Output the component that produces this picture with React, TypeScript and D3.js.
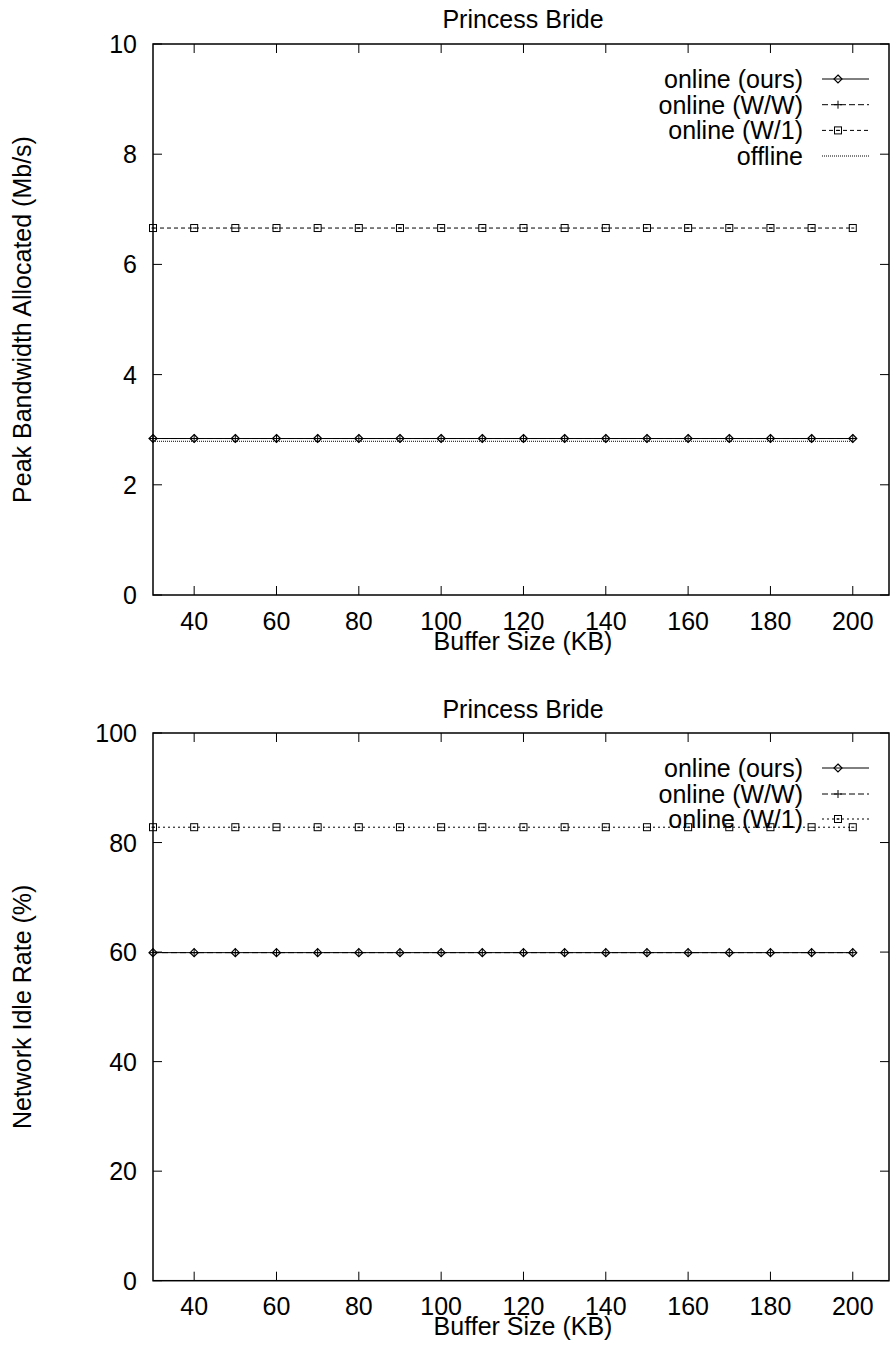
import React from "react";
import * as d3 from "d3";

const title = "Princess Bride";
const bufferSizes = [30, 40, 50, 60, 70, 80, 90, 100, 110, 120, 130, 140, 150, 160, 170, 180, 190, 200];
const xTicks = [40, 60, 80, 100, 120, 140, 160, 180, 200];

// top chart: peak bandwidth (Mb/s)
const peakOurs = [2.84, 2.84, 2.84, 2.84, 2.84, 2.84, 2.84, 2.84, 2.84, 2.84, 2.84, 2.84, 2.84, 2.84, 2.84, 2.84, 2.84, 2.84];
const peakWW = [2.84, 2.84, 2.84, 2.84, 2.84, 2.84, 2.84, 2.84, 2.84, 2.84, 2.84, 2.84, 2.84, 2.84, 2.84, 2.84, 2.84, 2.84];
const peakW1 = [6.66, 6.66, 6.66, 6.66, 6.66, 6.66, 6.66, 6.66, 6.66, 6.66, 6.66, 6.66, 6.66, 6.66, 6.66, 6.66, 6.66, 6.66];
const peakOffline = [2.79, 2.79, 2.79, 2.79, 2.79, 2.79, 2.79, 2.79, 2.79, 2.79, 2.79, 2.79, 2.79, 2.79, 2.79, 2.79, 2.79, 2.79];
const peakTicks = [0, 2, 4, 6, 8, 10];

// bottom chart: network idle rate (%)
const idleOurs = [59.9, 59.9, 59.9, 59.9, 59.9, 59.9, 59.9, 59.9, 59.9, 59.9, 59.9, 59.9, 59.9, 59.9, 59.9, 59.9, 59.9, 59.9];
const idleWW = [59.9, 59.9, 59.9, 59.9, 59.9, 59.9, 59.9, 59.9, 59.9, 59.9, 59.9, 59.9, 59.9, 59.9, 59.9, 59.9, 59.9, 59.9];
const idleW1 = [82.8, 82.8, 82.8, 82.8, 82.8, 82.8, 82.8, 82.8, 82.8, 82.8, 82.8, 82.8, 82.8, 82.8, 82.8, 82.8, 82.8, 82.8];
const idleTicks = [0, 20, 40, 60, 80, 100];

const FONT = "'Liberation Sans', Arial, sans-serif";
const FS = 25;

type Series = { name: string; values: number[]; dash: string | null; marker: string | null };

function Marker({ kind, x, y }: { kind: string | null; x: number; y: number }) {
  if (kind === "diamond") {
    return <path d={`M${x},${y - 4}L${x + 4},${y}L${x},${y + 4}L${x - 4},${y}Z`} fill="none" stroke="#000" strokeWidth={1.2} />;
  }
  if (kind === "plus") {
    return <path d={`M${x - 4},${y}H${x + 4}M${x},${y - 4}V${y + 4}`} stroke="#000" strokeWidth={1} />;
  }
  if (kind === "square") {
    return (
      <g>
        <rect x={x - 3.5} y={y - 3.5} width={7} height={7} fill="none" stroke="#000" strokeWidth={1} />
        <path d={`M${x - 1.5},${y}H${x + 1.5}`} stroke="#000" strokeWidth={1} />
      </g>
    );
  }
  return null;
}

function Panel(props: {
  top: number; bottom: number; yMax: number; yTicks: number[]; yLabel: string;
  series: Series[]; titleY: number; xLabelY: number; tickLabelDy: number; legendY: number[];
}) {
  const { top, bottom, yMax, yTicks, yLabel, series, titleY, xLabelY, tickLabelDy, legendY } = props;
  const left = 153, right = 889;
  const x = d3.scaleLinear().domain([30, 208.8]).range([left, right]);
  const y = d3.scaleLinear().domain([0, yMax]).range([bottom, top]);
  const line = d3.line<number>().x((_, i) => x(bufferSizes[i])).y((d) => y(d));
  const tl = 9;

  return (
    <g fontFamily={FONT} fontSize={FS} fill="#000">
      <text x={(left + right) / 2 + 2} y={titleY} textAnchor="middle">{title}</text>

      {series.map((s) => (
        <g key={s.name}>
          <path d={line(s.values) || ""} fill="none" stroke="#000" strokeWidth={1} strokeDasharray={s.dash || undefined} />
          {s.marker && s.values.map((v, i) => <Marker key={i} kind={s.marker} x={x(bufferSizes[i])} y={y(v)} />)}
        </g>
      ))}

      {/* frame and ticks */}
      <rect x={left} y={top} width={right - left} height={bottom - top} fill="none" stroke="#000" strokeWidth={1.5} />
      {xTicks.map((t) => (
        <g key={"x" + t}>
          <line x1={x(t)} x2={x(t)} y1={bottom} y2={bottom - tl} stroke="#000" />
          <line x1={x(t)} x2={x(t)} y1={top} y2={top + tl} stroke="#000" />
          <text x={x(t)} y={bottom + tickLabelDy} textAnchor="middle">{t}</text>
        </g>
      ))}
      {yTicks.map((t) => (
        <g key={"y" + t}>
          <line x1={left} x2={left + tl} y1={y(t)} y2={y(t)} stroke="#000" />
          <line x1={right} x2={right - tl} y1={y(t)} y2={y(t)} stroke="#000" />
          <text x={137} y={y(t) + 9} textAnchor="end">{t}</text>
        </g>
      ))}

      <text x={(left + right) / 2 + 2} y={xLabelY} textAnchor="middle">Buffer Size (KB)</text>
      <text transform={`translate(31,${(top + bottom) / 2}) rotate(-90)`} textAnchor="middle">{yLabel}</text>

      {/* legend */}
      {series.map((s, i) => (
        <g key={"lg" + s.name}>
          <text x={803} y={legendY[i] + 9} textAnchor="end">{s.name}</text>
          <line x1={822} x2={869} y1={legendY[i]} y2={legendY[i]} stroke="#000" strokeWidth={1} strokeDasharray={s.dash || undefined} />
          <Marker kind={s.marker} x={838} y={legendY[i]} />
        </g>
      ))}
    </g>
  );
}

export default function App() {
  const topSeries: Series[] = [
    { name: "online (ours)", values: peakOurs, dash: null, marker: "diamond" },
    { name: "online (W/W)", values: peakWW, dash: "6,3", marker: "plus" },
    { name: "online (W/1)", values: peakW1, dash: "4,3", marker: "square" },
    { name: "offline", values: peakOffline, dash: "1,1", marker: null },
  ];
  const bottomSeries: Series[] = [
    { name: "online (ours)", values: idleOurs, dash: null, marker: "diamond" },
    { name: "online (W/W)", values: idleWW, dash: "6,3", marker: "plus" },
    { name: "online (W/1)", values: idleW1, dash: "2,3", marker: "square" },
  ];
  return (
    <svg width={894} height={1348} style={{ position: "absolute", left: 0, top: 0, background: "#fff" }}>
      <rect width={894} height={1348} fill="#fff" />
      <Panel top={44} bottom={595} yMax={10} yTicks={peakTicks} yLabel="Peak Bandwidth Allocated (Mb/s)"
        series={topSeries} titleY={28} xLabelY={650} tickLabelDy={35} legendY={[79, 104.7, 130.4, 156]} />
      <Panel top={733} bottom={1280.7} yMax={100} yTicks={idleTicks} yLabel="Network Idle Rate (%)"
        series={bottomSeries} titleY={718} xLabelY={1335} tickLabelDy={34} legendY={[768, 794, 819]} />
    </svg>
  );
}
